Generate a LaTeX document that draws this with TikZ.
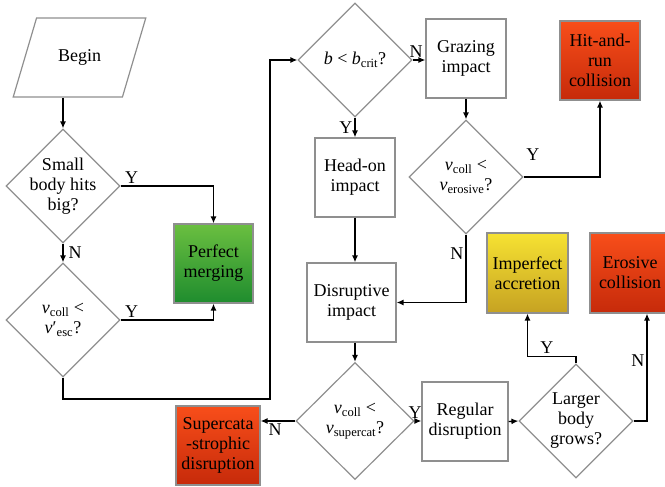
\documentclass[tikz,border=0pt]{standalone}
\usepackage{fontspec}
\setmainfont{Liberation Serif}
\usepackage{xcolor}
\usetikzlibrary{arrows.meta, positioning, shapes.geometric}
\definecolor{boxgray}{HTML}{8F8F8F}
\definecolor{greentop}{HTML}{6BBF40}
\definecolor{greenbot}{HTML}{1E8C2E}
\definecolor{redtop}{HTML}{F84E1A}
\definecolor{redbot}{HTML}{C62A0A}
\definecolor{yellowtop}{HTML}{F6E232}
\definecolor{yellowbot}{HTML}{C6A222}

\begin{document}
\begin{tikzpicture}[x=1pt, y=-1pt,
    font=\fontsize{18}{20}\selectfont,
    box/.style={rectangle, draw=boxgray, line width=1.2pt, align=center,
                minimum width=80pt, minimum height=79pt, inner sep=2pt},
    decision/.style={diamond, draw=boxgray, line width=1.2pt, align=center,
                aspect=1, minimum width=114pt, minimum height=114pt, inner sep=-8pt},
    greenbox/.style={box, top color=greentop, bottom color=greenbot},
    redbox/.style={box, top color=redtop, bottom color=redbot},
    yellowbox/.style={box, top color=yellowtop, bottom color=yellowbot},
    flow/.style={-{Latex[length=7pt, width=6pt]}, line width=1.3pt},
    yn/.style={inner sep=2pt}]
  \useasboundingbox (0,0) rectangle (665,487);

  \node (begin) [trapezium, trapezium left angle=59, trapezium right angle=121,
    trapezium stretches=true, draw=boxgray, line width=1.2pt,
    minimum height=79pt, minimum width=133pt] at (79.5,57.5) {Begin};
  \node (small) [decision] at (63,186) {Small\\body hits\\big?};
  \node (vesc) [decision] at (63,320) {\textit{v}\textsubscript{coll} <\\\textit{v}′\textsubscript{esc}?};
  \node (merge) [greenbox, minimum width=79pt] at (213.5,263.5) {Perfect\\merging};

  \node (bcrit) [decision] at (355,60) {\textit{b} < \textit{b}\textsubscript{crit}?};
  \node (grazing) [box] at (466,58.5) {Grazing\\impact};
  \node (hitrun) [redbox] at (600,60.5) {Hit-and-\\run\\collision};
  \node (headon) [box] at (355,177.5) {Head-on\\impact};
  \node (erosive) [decision] at (466,177) {\textit{v}\textsubscript{coll} <\\\textit{v}\textsubscript{erosive}?};
  \node (disrupt) [box, minimum width=89pt] at (351.5,302.5) {Disruptive\\impact};
  \node (supercat) [decision, minimum width=118pt, minimum height=117pt] at (355,421)
    {\textit{v}\textsubscript{coll} <\\\textit{v}\textsubscript{supercat}?};
  \node (superbox) [redbox, minimum width=84pt] at (218,445.5) {Supercata\\-strophic\\disruption};
  \node (regular) [box, minimum width=86pt] at (465,421.5) {Regular\\disruption};
  \node (larger) [decision] at (576,421) {Larger\\body\\grows?};
  \node (imperfect) [yellowbox, minimum width=81pt, minimum height=80pt] at (527.5,273) {Imperfect\\accretion};
  \node (erosbox) [redbox, minimum height=80pt] at (630,273) {Erosive\\collision};

  \coordinate (loop) at (270,399);

  \draw[flow] (begin.south -| small) -- (small.north);
  \draw[flow] (small.east) -| node[yn, above, pos=0.06] {Y} (merge.north);
  \draw[flow] (small.south) -- node[yn, right, xshift=3pt] {N} (vesc.north);
  \draw[flow] (vesc.east) -| node[yn, above, pos=0.06] {Y} (merge.south);
  \draw[flow] (vesc.south) |- (loop) |- (bcrit.west);
  \draw[flow] (bcrit.east) -- node[yn, above, xshift=-3pt] {N} (bcrit.east -| grazing.west);
  \draw[flow] (bcrit.south) -- node[yn, left] {Y} (headon.north);
  \draw[flow] (grazing.south) -- (erosive.north);
  \draw[flow] (erosive.east) -| node[yn, above, pos=0.06, yshift=14pt] {Y} (hitrun.south);
  \draw[flow] (erosive.south) |- node[yn, left, pos=0.14] {N} (disrupt.east);
  \draw[flow] (headon.south) -- (headon.south |- disrupt.north);
  \draw[flow] (disrupt.south -| supercat) -- (supercat.north);
  \draw[flow] (supercat.west) -- node[yn, below, xshift=-3pt] {N} (supercat.west -| superbox.east);
  \draw[flow] (supercat.east) -- node[yn, above, xshift=-3pt] {Y} (supercat.east -| regular.west);
  \draw[flow] (regular.east) -- (larger.west);
  \draw[flow] (larger.north) -- ++(0,-7) -| node[yn, above, pos=0.3] {Y} (imperfect.south);
  \draw[flow] (larger.east) -| node[yn, left, pos=0.78] {N} ([xshift=17pt]erosbox.south);
\end{tikzpicture}
\end{document}
